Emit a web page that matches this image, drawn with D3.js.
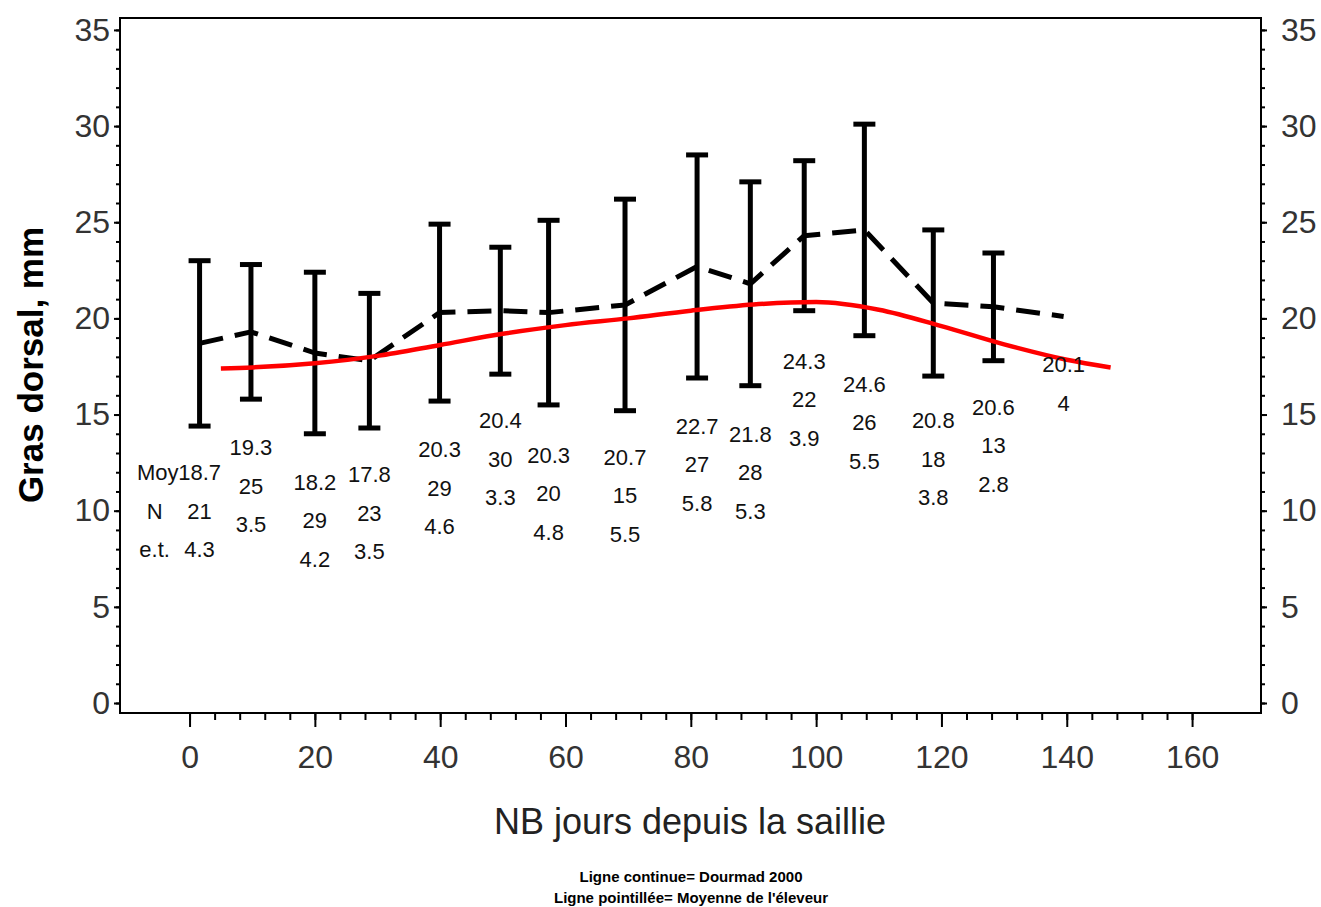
<!DOCTYPE html>
<html><head><meta charset="utf-8">
<script src="https://cdn.jsdelivr.net/npm/d3@7"></script>
<style>body{margin:0;background:#fff}svg{display:block}text{font-family:"Liberation Sans",Arial,sans-serif}</style>
</head><body>
<svg id="chart" width="1321" height="907"></svg>
<script>
// ---- data ----
const days   = [1.6, 9.8, 20.0, 28.7, 39.9, 49.6, 57.3, 69.5, 81.0, 89.5, 98.1, 107.7, 118.7, 128.3, 139.5];
const means  = [18.7, 19.3, 18.2, 17.8, 20.3, 20.4, 20.3, 20.7, 22.7, 21.8, 24.3, 24.6, 20.8, 20.6, 20.1];
const counts = [21, 25, 29, 23, 29, 30, 20, 15, 27, 28, 22, 26, 18, 13, 4];
const sds    = [4.3, 3.5, 4.2, 3.5, 4.6, 3.3, 4.8, 5.5, 5.8, 5.3, 3.9, 5.5, 3.8, 2.8, null];
// level (gras dorsal units) where each group's "Moy" label sits
const labelLevel = [12.0, 13.3, 11.5, 11.9, 13.2, 14.7, 12.9, 12.8, 14.4, 14.0, 17.8, 16.6, 14.7, 15.4, 17.6];
// Dourmad 2000 reference curve
const refDays = [5, 10, 20, 30, 40, 50, 60, 70, 80, 90, 100, 110, 120, 130, 140, 147];
const refVals = [17.4, 17.45, 17.67, 18.05, 18.62, 19.2, 19.65, 20.0, 20.4, 20.72, 20.85, 20.45, 19.6, 18.65, 17.85, 17.45];
const xTicks = [0, 20, 40, 60, 80, 100, 120, 140, 160];
const yTicks = [0, 5, 10, 15, 20, 25, 30, 35];
const xTitle = "NB jours depuis la saillie";
const yTitle = "Gras dorsal, mm";
const notes = ["Ligne continue= Dourmad 2000", "Ligne pointillée= Moyenne de l'éleveur"];

// ---- layout ----
const svg = d3.select("#chart");
const L = 120, R = 1261, T = 18, B = 713;
const x = d3.scaleLinear().domain([-11.1, 171.0]).range([L, R]);
const y = d3.scaleLinear().domain([-0.52, 35.62]).range([B, T]);

svg.append("rect").attr("width", 1321).attr("height", 907).attr("fill", "#fff");

// frame
svg.append("rect").attr("x", L).attr("y", T).attr("width", R - L).attr("height", B - T)
  .attr("fill", "none").attr("stroke", "#000").attr("stroke-width", 2);

// axes
const yMinor = d3.range(0, 36, 1);
const xMinor = d3.range(0, 161, 4);
const g = svg.append("g");
g.append("g").attr("transform", `translate(${L},0)`)
  .call(d3.axisLeft(y).tickValues(yMinor).tickSize(4).tickFormat(""))
  .call(a => a.select(".domain").remove());
g.append("g").attr("transform", `translate(${L},0)`)
  .call(d3.axisLeft(y).tickValues(yTicks).tickSize(6).tickPadding(4).tickFormat(d3.format("d")))
  .call(a => a.select(".domain").remove());
g.append("g").attr("transform", `translate(${R},0)`)
  .call(d3.axisRight(y).tickValues(yMinor).tickSize(4).tickFormat(""))
  .call(a => a.select(".domain").remove());
g.append("g").attr("transform", `translate(${R},0)`)
  .call(d3.axisRight(y).tickValues(yTicks).tickSize(6).tickPadding(14).tickFormat(d3.format("d")))
  .call(a => a.select(".domain").remove());
g.append("g").attr("transform", `translate(0,${B})`)
  .call(d3.axisBottom(x).tickValues(xMinor).tickSize(7).tickFormat(""))
  .call(a => a.select(".domain").remove());
g.append("g").attr("transform", `translate(0,${B})`)
  .call(d3.axisBottom(x).tickValues(xTicks).tickSize(14).tickPadding(18).tickFormat(d3.format("d")))
  .call(a => a.select(".domain").remove());
g.selectAll(".tick line").attr("stroke", "#000").attr("stroke-width", 2);
g.selectAll(".tick text").attr("font-size", 32).attr("fill", "#333")
  .attr("font-family", "'Liberation Sans', Arial, sans-serif");

// titles
svg.append("text").attr("x", 690).attr("y", 834).attr("text-anchor", "middle")
  .attr("font-size", 36).attr("fill", "#222").text(xTitle);
svg.append("text").attr("transform", "translate(43,365) rotate(-90)").attr("text-anchor", "middle")
  .attr("font-size", 35).attr("font-weight", "bold").attr("fill", "#000").text(yTitle);
svg.selectAll(".note").data(notes).join("text").attr("class", "note")
  .attr("x", 691).attr("y", (d, i) => 882 + i * 21).attr("text-anchor", "middle")
  .attr("font-size", 15).attr("font-weight", "bold").attr("fill", "#000").text(d => d);

// error bars
const pts = days.map((d, i) => ({d, m: means[i], n: counts[i], s: sds[i], lv: labelLevel[i]}));
const eb = svg.append("g").attr("stroke", "#000").attr("stroke-width", 5).attr("fill", "none");
pts.filter(p => p.s != null).forEach(p => {
  const cx = x(p.d);
  eb.append("line").attr("x1", cx).attr("x2", cx).attr("y1", y(p.m + p.s)).attr("y2", y(p.m - p.s));
  eb.append("line").attr("x1", cx - 11).attr("x2", cx + 11).attr("y1", y(p.m + p.s)).attr("y2", y(p.m + p.s));
  eb.append("line").attr("x1", cx - 11).attr("x2", cx + 11).attr("y1", y(p.m - p.s)).attr("y2", y(p.m - p.s));
});

// dashed mean line
svg.append("path").datum(pts)
  .attr("d", d3.line().x(p => x(p.d)).y(p => y(p.m)).curve(d3.curveLinear))
  .attr("fill", "none").attr("stroke", "#000").attr("stroke-width", 5)
  .attr("stroke-dasharray", "24,12").attr("stroke-linejoin", "round");

// reference red line
svg.append("path").datum(refDays.map((d, i) => [d, refVals[i]]))
  .attr("d", d3.line().x(p => x(p[0])).y(p => y(p[1])).curve(d3.curveMonotoneX))
  .attr("fill", "none").attr("stroke", "#ff0000").attr("stroke-width", 4.5);

// labels
const lab = svg.append("g").attr("font-size", 22).attr("fill", "#111").attr("text-anchor", "middle");
pts.forEach(p => {
  const cx = x(p.d);
  const rows = [p.m.toFixed(1), String(p.n)];
  if (p.s != null) rows.push(p.s.toFixed(1));
  rows.forEach((t, k) => {
    lab.append("text").attr("x", cx).attr("y", y(p.lv - 2 * k)).attr("dy", "0.36em").text(t);
  });
});
const c0 = x(days[0]);
lab.append("text").attr("x", c0 - 21).attr("y", y(labelLevel[0])).attr("dy", "0.36em")
  .attr("text-anchor", "end").text("Moy");
lab.append("text").attr("x", c0 - 45).attr("y", y(labelLevel[0] - 2)).attr("dy", "0.36em").text("N");
lab.append("text").attr("x", c0 - 45).attr("y", y(labelLevel[0] - 4)).attr("dy", "0.36em").text("e.t.");
</script>
</body></html>
